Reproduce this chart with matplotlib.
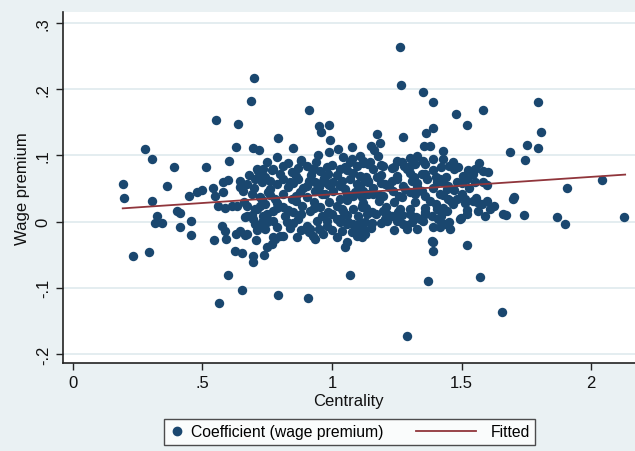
import matplotlib
matplotlib.use('Agg')
import matplotlib.pyplot as plt
from matplotlib.lines import Line2D
from matplotlib.legend_handler import HandlerBase

plt.rcParams['font.family'] = ['Liberation Sans', 'DejaVu Sans']

# centrality (x) and wage premium (y)
centrality = [
    0.699, 0.688, 0.553, 0.638, 0.792, 0.279, 0.306, 0.391, 0.514, 0.603,
    0.630, 0.696, 0.719, 0.194, 0.198, 0.306, 0.364, 0.449, 0.480, 0.499,
    0.541, 0.580, 0.599, 0.549, 0.580, 0.645, 0.672, 0.402, 0.414, 0.325,
    0.318, 0.345, 0.414, 0.456, 0.456, 0.233, 0.294, 0.545, 0.591, 0.576,
    0.588, 0.630, 0.645, 0.665, 0.626, 0.653, 0.696, 0.696, 0.707, 0.738,
    0.750, 0.769, 0.780, 0.599, 0.653, 0.564, 0.792, 0.561, 0.588, 0.615,
    0.634, 0.672, 0.696, 0.711, 0.734, 0.703, 0.723, 0.750, 0.773, 1.051,
    1.070, 0.908, 1.290, 1.371, 1.390, 1.390, 1.155, 1.205, 1.213, 1.255,
    1.290, 1.325, 0.865, 0.927, 0.935, 0.912, 0.800, 1.081, 1.097, 1.116,
    1.078, 1.062, 1.031, 1.390, 1.409, 1.429, 1.444, 1.405, 1.359, 1.521,
    1.571, 1.656, 2.127, 1.868, 1.899, 1.741, 1.660, 1.672, 1.610, 1.625,
    1.564, 1.498, 1.699, 1.579, 1.544, 1.456, 1.436, 1.467, 1.514, 1.795,
    1.807, 1.795, 1.753, 1.745, 1.687, 1.703, 1.907, 2.042, 1.479, 1.521,
    1.583, 1.429, 1.467, 1.452, 1.487, 1.506, 1.525, 1.544, 1.567, 1.583,
    1.602, 1.552, 1.598, 1.444, 1.417, 1.483, 1.556, 1.267, 1.351, 1.390,
    0.912, 0.950, 0.989, 0.958, 0.993, 1.174, 1.186, 1.274, 1.363, 1.390,
    0.850, 0.946, 0.989, 1.024, 1.151, 1.162, 1.355, 0.881, 1.043, 1.078,
    1.108, 1.120, 1.178, 1.197, 1.301, 1.328, 1.351, 1.390, 1.240, 1.278,
    1.317, 1.359, 1.402, 1.263, 1.078, 1.378, 0.750, 0.734, 0.788, 0.715,
    # dense band, left half
    0.773, 0.811, 0.846, 0.904, 0.923, 0.954, 0.985, 1.031, 1.051, 1.070,
    1.097, 1.139,
    0.645, 0.703, 0.730, 0.761, 0.788, 0.811, 0.838, 0.869, 0.904, 0.935,
    0.966, 1.004, 1.031, 1.070, 1.097, 1.128,
    0.657, 0.692, 0.723, 0.753, 0.780, 0.811, 0.846, 0.877, 0.904, 0.935,
    0.973, 1.004, 1.031, 1.058, 1.089, 1.116, 1.139,
    0.672, 0.711, 0.742, 0.773, 0.811, 0.850, 0.885, 0.916, 0.954, 0.985,
    1.020, 1.043, 1.081, 1.116, 1.135,
    0.665, 0.703, 0.750, 0.788, 0.827, 0.869, 0.904, 0.943, 0.981, 1.020,
    1.058, 1.128,
    0.672, 0.742, 0.773, 0.811, 0.916, 0.966, 1.020, 1.058, 1.097, 1.128,
    # dense band, right half
    1.147, 1.270, 1.301, 1.359, 1.429,
    1.108, 1.139, 1.174, 1.205, 1.251, 1.274, 1.309, 1.348, 1.367, 1.405,
    1.448, 1.483, 1.521, 1.583,
    1.120, 1.159, 1.197, 1.236, 1.270, 1.301, 1.348, 1.378, 1.417, 1.448,
    1.514, 1.598,
    1.116, 1.155, 1.197, 1.232, 1.263, 1.301, 1.340, 1.386, 1.494, 1.591,
    1.120, 1.213, 1.274, 1.290, 1.351, 1.417, 1.386,
    # filler inside the solid core of the cloud
    0.830, 0.880, 0.940, 1.000, 1.120, 1.190, 1.250, 1.320, 1.420, 1.550,
    0.680, 0.740, 0.800, 0.860, 0.920, 0.970, 1.020, 1.080, 1.130, 1.190,
    1.250, 1.300, 1.360, 1.440,
    0.700, 0.760, 0.830, 0.890, 0.950, 0.990, 1.050, 1.110, 1.160, 1.220,
    1.280, 1.330, 1.390, 1.470, 1.530,
    0.660, 0.730, 0.790, 0.860, 0.930, 0.990, 1.060, 1.120, 1.180, 1.240,
    1.320, 1.400, 1.460, 1.560,
    0.690, 0.750, 0.820, 0.880, 0.960, 1.000, 1.060, 1.100, 1.170, 1.270,
    1.360, 1.420, 1.520,
    0.710, 0.840, 0.880, 0.950, 1.000, 1.040, 1.150, 1.240, 1.330,
    0.710, 0.770, 0.870, 0.930, 0.980, 1.060, 1.160, 1.230, 1.290, 1.390,
    1.470,
    0.730, 0.850, 0.910, 0.980, 1.040, 1.140, 1.190, 1.230, 1.330, 1.430,
    1.500,
    0.760, 0.860, 0.960, 1.080, 1.180, 1.260, 1.320, 1.360, 1.430, 1.500,
    0.790, 0.830, 0.930, 1.040, 1.130, 1.210, 1.300, 1.360, 1.430, 1.520,
    0.730, 0.850, 0.980, 1.030, 1.110, 1.190, 1.250, 1.310, 1.450,
]
premium = [
    0.217, 0.182, 0.153, 0.147, 0.126, 0.110, 0.095, 0.082, 0.082, 0.092,
    0.113, 0.111, 0.108, 0.057, 0.036, 0.031, 0.054, 0.039, 0.045, 0.048,
    0.051, 0.060, 0.063, 0.039, 0.045, 0.052, 0.057, 0.016, 0.013, 0.008,
    -0.002, -0.002, -0.008, 0.001, -0.020, -0.052, -0.046, -0.028, -0.026, -0.007,
    -0.014, -0.019, -0.014, -0.020, -0.044, -0.047, -0.052, -0.061, -0.028, -0.050,
    -0.038, -0.034, -0.026, -0.081, -0.103, -0.123, -0.111, 0.024, 0.021, 0.024,
    0.024, 0.008, 0.004, -0.007, 0.008, 0.019, 0.024, -0.001, 0.001, -0.038,
    -0.081, -0.115, -0.173, -0.090, -0.044, -0.031, -0.002, 0.004, 0.011, 0.015,
    -0.005, 0.007, -0.023, -0.022, -0.026, -0.016, -0.022, -0.004, -0.011, -0.023,
    -0.016, -0.001, 0.004, -0.008, 0.004, -0.004, 0.016, 0.019, 0.015, -0.035,
    -0.084, -0.137, 0.007, 0.007, -0.004, 0.010, 0.011, 0.010, 0.019, 0.024,
    0.016, 0.005, 0.034, 0.027, 0.031, -0.011, -0.004, 0.027, 0.028, 0.181,
    0.135, 0.111, 0.116, 0.093, 0.105, 0.037, 0.051, 0.063, 0.163, 0.146,
    0.169, 0.107, 0.090, 0.084, 0.082, 0.069, 0.078, 0.072, 0.089, 0.076,
    0.075, 0.060, 0.055, 0.049, 0.064, 0.034, 0.036, 0.206, 0.196, 0.181,
    0.169, 0.144, 0.146, 0.135, 0.123, 0.132, 0.119, 0.128, 0.134, 0.141,
    0.111, 0.101, 0.105, 0.110, 0.114, 0.108, 0.114, 0.092, 0.098, 0.095,
    0.099, 0.092, 0.099, 0.084, 0.096, 0.099, 0.092, 0.095, 0.082, 0.084,
    0.067, 0.072, 0.067, 0.264, 0.113, 0.114, 0.090, 0.079, 0.098, 0.076,
    # dense band, left half
    0.079, 0.084, 0.075, 0.084, 0.079, 0.076, 0.072, 0.079, 0.082, 0.090,
    0.084, 0.087,
    0.061, 0.064, 0.067, 0.061, 0.057, 0.064, 0.060, 0.064, 0.054, 0.060,
    0.061, 0.060, 0.054, 0.064, 0.057, 0.061,
    0.046, 0.042, 0.037, 0.045, 0.034, 0.042, 0.034, 0.045, 0.037, 0.046,
    0.042, 0.046, 0.034, 0.042, 0.045, 0.037, 0.042,
    0.024, 0.019, 0.027, 0.016, 0.022, 0.015, 0.024, 0.016, 0.022, 0.015,
    0.024, 0.016, 0.019, 0.024, 0.011,
    0.007, -0.004, 0.004, -0.008, -0.001, 0.004, -0.007, 0.001, -0.007, 0.004,
    -0.004, -0.001,
    -0.019, -0.011, -0.023, -0.022, -0.011, -0.019, -0.023, -0.031, -0.022, -0.019,
    # dense band, right half
    0.090, 0.090, 0.084, 0.087, 0.095,
    0.069, 0.061, 0.067, 0.057, 0.064, 0.054, 0.061, 0.072, 0.064, 0.060,
    0.054, 0.060, 0.064, 0.060,
    0.046, 0.042, 0.039, 0.046, 0.037, 0.045, 0.046, 0.031, 0.042, 0.034,
    0.034, 0.031,
    0.022, 0.015, 0.016, 0.008, 0.019, 0.011, 0.004, 0.008, 0.004, 0.008,
    -0.011, 0.001, -0.004, -0.011, 0.001, -0.008, -0.029,
    # filler inside the solid core of the cloud
    0.088, 0.093, 0.090, 0.086, 0.089, 0.085, 0.091, 0.087, 0.083, 0.080,
    0.071, 0.068, 0.072, 0.069, 0.071, 0.066, 0.070, 0.073, 0.068, 0.071,
    0.069, 0.073, 0.070, 0.067,
    0.051, 0.049, 0.053, 0.050, 0.052, 0.055, 0.049, 0.052, 0.050, 0.053,
    0.049, 0.052, 0.050, 0.048, 0.051,
    0.030, 0.032, 0.028, 0.031, 0.029, 0.030, 0.033, 0.028, 0.031, 0.029,
    0.030, 0.027, 0.031, 0.029,
    0.010, 0.012, 0.009, 0.011, 0.008, 0.012, 0.010, 0.009, 0.011, 0.010,
    0.012, 0.009, 0.011,
    -0.012, -0.010, -0.013, -0.011, -0.012, -0.014, -0.010, -0.012, -0.011,
    0.080, 0.078, 0.081, 0.079, 0.082, 0.078, 0.080, 0.081, 0.079, 0.078,
    0.080,
    0.060, 0.058, 0.061, 0.059, 0.062, 0.060, 0.058, 0.061, 0.059, 0.060,
    0.058,
    0.040, 0.038, 0.041, 0.039, 0.040, 0.038, 0.041, 0.039, 0.040, 0.042,
    0.020, 0.018, 0.021, 0.019, 0.020, 0.022, 0.019, 0.021, 0.020, 0.018,
    0.000, -0.002, 0.001, -0.001, 0.000, -0.002, 0.001, -0.001, 0.000,
]

# fitted line end points
fit_x = [0.193, 2.131]
fit_y = [0.020, 0.071]

yticks = [-0.2, -0.1, 0, 0.1, 0.2, 0.3]
ytick_labels = ['-.2', '-.1', '0', '.1', '.2', '.3']
xticks = [0, 0.5, 1, 1.5, 2]
xtick_labels = ['0', '.5', '1', '1.5', '2']

bg = '#eaf1f3'
navy = '#1a476f'
maroon = '#90353b'


class DotHandler(HandlerBase):
    # narrow handle with a single dot
    def create_artists(self, legend, orig_handle, xdescent, ydescent,
                       width, height, fontsize, trans):
        dot = Line2D([width / 2 - xdescent], [height / 2 - ydescent],
                     marker='o', linestyle='none', color=navy, markersize=6)
        dot.set_transform(trans)
        return [dot]


class LongLineHandler(HandlerBase):
    # line that runs further left than the (narrow) handle box
    def create_artists(self, legend, orig_handle, xdescent, ydescent,
                       width, height, fontsize, trans):
        y = height / 2 - ydescent
        ln = Line2D([width - 49 - xdescent, width - 6 - xdescent], [y, y],
                    color=maroon, lw=1.3)
        ln.set_transform(trans)
        return [ln]


fig = plt.figure(figsize=(6.35, 4.52), dpi=100, facecolor=bg)
ax = fig.add_axes([0.0987, 0.1947, 0.9013, 0.7765])
ax.set_facecolor('white')

ax.scatter(centrality, premium, s=46, color=navy, linewidths=0, zorder=3)
ax.plot(fit_x, fit_y, color=maroon, lw=1.3, zorder=4)

ax.set_xlim(-0.0386, 2.169)
ax.set_ylim(-0.2136, 0.3166)

ax.set_yticks(yticks)
ax.set_yticklabels(ytick_labels, rotation=90, va='center')
ax.set_xticks(xticks)
ax.set_xticklabels(xtick_labels)
ax.tick_params(axis='both', direction='out', length=5, width=1, color='#222222',
               labelsize=12, labelcolor='#111111')
ax.yaxis.grid(True, color='#e2ecef', lw=1.3, zorder=0)
ax.set_axisbelow(True)

for side in ['top', 'right']:
    ax.spines[side].set_visible(False)
for side in ['left', 'bottom']:
    ax.spines[side].set_color('#222222')
    ax.spines[side].set_linewidth(1.2)

ax.set_xlabel('Centrality', fontsize=12, color='#111111', labelpad=2)
ax.set_ylabel('Wage premium', fontsize=12, color='#111111', labelpad=4)

dot_handle = Line2D([], [], marker='o', linestyle='none', color=navy)
line_handle = Line2D([], [], color=maroon)
leg = fig.legend([dot_handle, line_handle],
                 ['Coefficient (wage premium)', 'Fitted'], ncol=2,
                 loc='center', bbox_to_anchor=(0.5505, 0.0431),
                 handler_map={dot_handle: DotHandler(),
                              line_handle: LongLineHandler()},
                 frameon=True, fancybox=False, edgecolor='#222222',
                 fontsize=11.3, handlelength=1.0, columnspacing=5.4,
                 handletextpad=0.4, borderpad=0.35, borderaxespad=0,
                 facecolor='white')
leg.get_frame().set_linewidth(1.0)

fig.savefig('out.png', dpi=100, facecolor=bg)
